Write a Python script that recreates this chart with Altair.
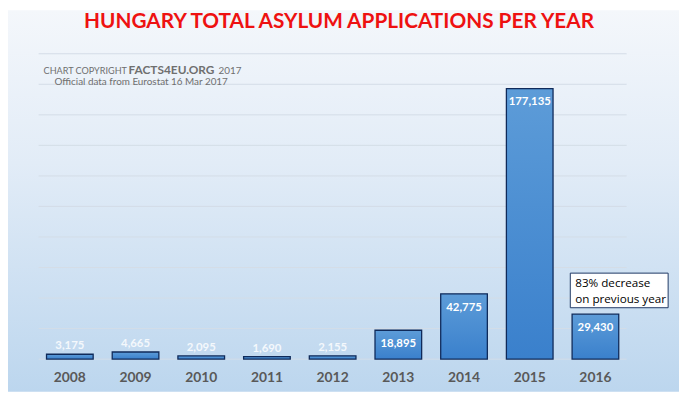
import altair as alt
import pandas as pd

years = ["2008", "2009", "2010", "2011", "2012", "2013", "2014", "2015", "2016"]
applications = [3175, 4665, 2095, 1690, 2155, 18895, 42775, 177135, 29430]
grid_values = [0, 20000, 40000, 60000, 80000, 100000, 120000, 140000, 160000, 180000, 200000]

title_text = "HUNGARY TOTAL ASYLUM APPLICATIONS PER YEAR"
note_lines = ["83% decrease", "on previous year"]

df = pd.DataFrame({"year": years, "value": applications})
df["label"] = [f"{v:,}" for v in applications]
grid_df = pd.DataFrame({"g": grid_values})
one = alt.Data(values=[{"a": 1}])

W, H = 679, 386
xscale = alt.Scale(domain=years, range=[31, 626], paddingInner=0.29, paddingOuter=0.12)
yscale = alt.Scale(domain=[0, 200000], range=[353, 44], nice=False, zero=True)

bg = alt.Chart(one).mark_rect(
    fill=alt.Gradient(gradient="linear", x1=0, x2=0, y1=0, y2=1,
                      stops=[alt.GradientStop(color="#f4f7fb", offset=0),
                             alt.GradientStop(color="#e2ecf7", offset=0.4),
                             alt.GradientStop(color="#bcd6ee", offset=1)])
).encode(x=alt.value(0), x2=alt.value(W), y=alt.value(0), y2=alt.value(H))

grid = alt.Chart(grid_df).mark_rule(color="#d3dce7", strokeWidth=1).encode(
    y=alt.Y("g:Q", scale=yscale, axis=None),
    x=alt.value(31), x2=alt.value(626)
)

bars = alt.Chart(df).mark_bar(
    fill=alt.Gradient(gradient="linear", x1=0, x2=0, y1=0, y2=1,
                      stops=[alt.GradientStop(color="#5d9cd8", offset=0),
                             alt.GradientStop(color="#3a80cc", offset=1)]),
    stroke="#0f2a5a", strokeWidth=1.3
).encode(
    x=alt.X("year:N", scale=xscale, axis=None),
    y=alt.Y("value:Q", scale=yscale, axis=None),
    y2=alt.datum(0)
)

lab_in = alt.Chart(df).transform_filter("datum.value >= 10000").mark_text(
    font="Lato", fontWeight="bold", fontSize=11.5, color="white", dy=14, baseline="middle"
).encode(x=alt.X("year:N", scale=xscale, axis=None),
         y=alt.Y("value:Q", scale=yscale, axis=None), text="label:N")

lab_out = alt.Chart(df).transform_filter("datum.value < 10000").mark_text(
    font="Lato", fontWeight="bold", fontSize=11.5, color="#f4f8fc", dy=-8, baseline="middle"
).encode(x=alt.X("year:N", scale=xscale, axis=None),
         y=alt.Y("value:Q", scale=yscale, axis=None), text="label:N")

year_lab = alt.Chart(df).mark_text(
    font="Lato", fontWeight="bold", fontSize=14, color="#595959", dy=19, baseline="middle"
).encode(x=alt.X("year:N", scale=xscale, axis=None), y=alt.datum(0), text="year:N")

title = alt.Chart(one).mark_text(
    text=title_text, font="Lato", fontWeight="bold", fontSize=21, color="#ee1111",
    align="center", baseline="middle"
).encode(x=alt.value(335), y=alt.value(12))

cr1 = alt.Chart(one).mark_text(text="CHART COPYRIGHT", font="Lato", fontSize=9.2,
    color="#6f6f6f", align="left", baseline="middle").encode(x=alt.value(36), y=alt.value(61))
cr2 = alt.Chart(one).mark_text(text="FACTS4EU.ORG", font="Lato", fontWeight="bold", fontSize=12,
    color="#6f6f6f", align="left", baseline="middle").encode(x=alt.value(122), y=alt.value(60))
cr3 = alt.Chart(one).mark_text(text="2017", font="Lato", fontSize=10,
    color="#6f6f6f", align="left", baseline="middle").encode(x=alt.value(213), y=alt.value(61))
cr4 = alt.Chart(one).mark_text(text="Official data from Eurostat 16 Mar 2017", font="Lato", fontSize=10,
    color="#6f6f6f", align="left", baseline="middle").encode(x=alt.value(47), y=alt.value(73))

box = alt.Chart(one).mark_rect(fill="white", stroke="#1f3864", strokeWidth=1).encode(
    x=alt.value(569), x2=alt.value(668), y=alt.value(266), y2=alt.value(301))
note = alt.Chart(one).mark_text(text=note_lines, font="Open Sans", fontSize=11.8, color="black",
    align="left", baseline="middle", lineHeight=16).encode(x=alt.value(574), y=alt.value(276))

chart = alt.layer(bg, grid, bars, lab_in, lab_out, year_lab, title, cr1, cr2, cr3, cr4, box, note).properties(
    width=W, height=H, autosize=alt.AutoSizeParams(type="none"), padding=0
).configure_view(stroke=None)

chart.save("out.html", embed_options={"renderer": "svg", "actions": False})
